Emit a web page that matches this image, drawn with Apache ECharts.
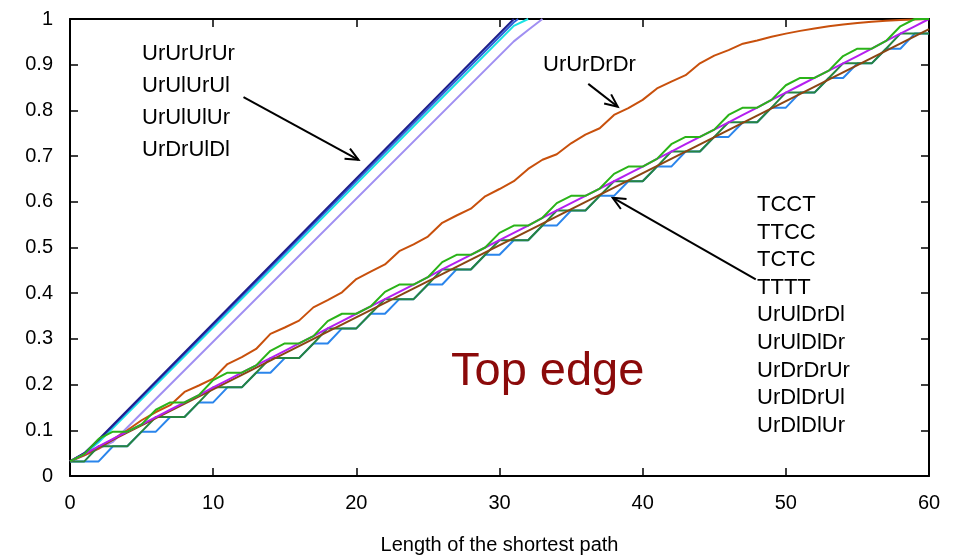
<!DOCTYPE html>
<html>
<head>
<meta charset="utf-8">
<script src="https://cdn.jsdelivr.net/npm/echarts@6/dist/echarts.min.js"></script>
<style>
html,body{margin:0;padding:0;background:#fff;}
#chart{width:953px;height:560px;}
</style>
</head>
<body>
<div id="chart"></div>
<script>
// x values: length of the shortest path
const pathLength = [0,1,2,3,4,5,6,7,8,9,10,11,12,13,14,15,16,17,18,19,20,21,22,23,24,25,26,27,28,29,30,31,32,33,34,35,36,37,38,39,40,41,42,43,44,45,46,47,48,49,50,51,52,53,54,55,56,57,58,59,60];

// Top group (steep lines): [x, y] pairs
const urUrUrUr = [[0,0.032],[1,0.05],[2,0.08],[31,1.0]];
const urUlUrUl = [[0,0.032],[1,0.05],[2,0.078],[31,0.993],[31.3,1.0]];
const urUlUlUr = [[0,0.032],[1,0.048],[2,0.074],[31,0.985],[32,1.0]];
const urDrUlDl = [[0,0.032],[1,0.045],[2,0.06],[3,0.075],[31,0.951],[32,0.976],[33,1.0]];

// UrUrDrDr curve
const urUrDrDr = [0.032,0.045,0.06,0.08,0.10,0.122,0.14,0.155,0.184,0.198,0.213,0.245,0.26,0.278,0.311,0.325,0.34,0.369,0.385,0.402,0.431,0.447,0.463,0.492,0.507,0.524,0.554,0.57,0.585,0.612,0.628,0.645,0.672,0.692,0.704,0.728,0.747,0.761,0.79,0.805,0.823,0.848,0.863,0.877,0.903,0.92,0.932,0.946,0.953,0.961,0.968,0.974,0.979,0.984,0.988,0.991,0.994,0.996,0.998,0.999,1.0];

// Lower bundle
const purpleLine = [0.032,0.048,0.065,0.081,0.097,0.113,0.129,0.145,0.161,0.177,0.194,0.210,0.226,0.242,0.258,0.274,0.290,0.306,0.323,0.339,0.355,0.371,0.387,0.403,0.419,0.435,0.452,0.468,0.484,0.500,0.516,0.532,0.548,0.565,0.581,0.597,0.613,0.629,0.645,0.661,0.677,0.694,0.710,0.726,0.742,0.758,0.774,0.790,0.806,0.823,0.839,0.855,0.871,0.887,0.903,0.919,0.935,0.952,0.968,0.984,1.000];
const brownLine = [[0,0.032],[60,0.978]];
const blueStairs = [0.032,0.032,0.032,0.065,0.065,0.097,0.097,0.129,0.129,0.161,0.161,0.194,0.194,0.226,0.226,0.258,0.258,0.290,0.290,0.323,0.323,0.355,0.355,0.387,0.387,0.419,0.419,0.452,0.452,0.484,0.484,0.516,0.516,0.548,0.548,0.581,0.581,0.613,0.613,0.645,0.645,0.677,0.677,0.710,0.710,0.742,0.742,0.774,0.774,0.806,0.806,0.839,0.839,0.871,0.871,0.903,0.903,0.935,0.935,0.968,0.968];
const darkGreenStairs = [0.032,0.032,0.065,0.065,0.065,0.097,0.129,0.129,0.129,0.161,0.194,0.194,0.194,0.226,0.258,0.258,0.258,0.290,0.323,0.323,0.323,0.355,0.387,0.387,0.387,0.419,0.452,0.452,0.452,0.484,0.516,0.516,0.516,0.548,0.581,0.581,0.581,0.613,0.645,0.645,0.645,0.677,0.710,0.710,0.710,0.742,0.774,0.774,0.774,0.806,0.839,0.839,0.839,0.871,0.903,0.903,0.903,0.935,0.968,0.968,0.968];
const greenStairs = [0.032,0.048,0.081,0.097,0.097,0.113,0.145,0.161,0.161,0.177,0.210,0.226,0.226,0.242,0.274,0.290,0.290,0.306,0.339,0.355,0.355,0.371,0.403,0.419,0.419,0.435,0.468,0.484,0.484,0.500,0.532,0.548,0.548,0.565,0.597,0.613,0.613,0.629,0.661,0.677,0.677,0.694,0.726,0.742,0.742,0.758,0.790,0.806,0.806,0.823,0.855,0.871,0.871,0.887,0.919,0.935,0.935,0.952,0.984,1.000,1.000];

// tick labels
const xTicks = [0,10,20,30,40,50,60];
const yTickLabels = ['0','0.1','0.2','0.3','0.4','0.5','0.6','0.7','0.8','0.9','1'];

const leftLabels = ['UrUrUrUr','UrUlUrUl','UrUlUlUr','UrDrUlDl'];
const rightLabels = ['TCCT','TTCC','TCTC','TTTT','UrUlDrDl','UrUlDlDr','UrDrDrUr','UrDlDrUl','UrDlDlUr'];

function pairs(ys){ return ys.map((y,i)=>[pathLength[i], y]); }

const FONT = '"Liberation Sans", Arial, Helvetica, sans-serif';
const chart = echarts.init(document.getElementById('chart'), null, {renderer:'canvas'});

function mk(name, data, color, z){
  return {name, type:'line', data, showSymbol:false, symbol:'none', animation:false, z: z||2,
    lineStyle:{color, width:2}, emphasis:{disabled:true}};
}

const axisCommon = {
  type:'value', axisLine:{show:true, onZero:false, lineStyle:{color:'#000', width:2}},
  axisTick:{show:true, inside:true, length:8, lineStyle:{color:'#000', width:1.5}},
  splitLine:{show:false}
};

chart.setOption({
  animation:false,
  backgroundColor:'#fff',
  grid:{left:70, right:24, top:19, bottom:82, containLabel:false},
  xAxis:[
    Object.assign({}, axisCommon, {min:0, max:60, interval:10, position:'bottom',
      axisLabel:{color:'#000', fontSize:20, fontFamily:FONT, margin:17},
      name:'Length of the shortest path', nameLocation:'middle', nameGap:59,
      nameTextStyle:{color:'#000', fontSize:20, fontFamily:FONT}}),
    Object.assign({}, axisCommon, {min:0, max:60, interval:10, position:'top', axisLabel:{show:false}})
  ],
  yAxis:[
    Object.assign({}, axisCommon, {min:0, max:1, interval:0.1, position:'left',
      axisLabel:{color:'#000', fontSize:20, fontFamily:FONT, margin:17,
        formatter:(v)=>yTickLabels[Math.round(v*10)]}}),
    Object.assign({}, axisCommon, {min:0, max:1, interval:0.1, position:'right', axisLabel:{show:false}})
  ],
  series:[
    mk('UrDrUlDl', urDrUlDl, '#a08ff2'),
    mk('UrUlUlUr', urUlUlUr, '#19e3e3'),
    mk('UrUlUrUl', urUlUrUl, '#2f5fd8'),
    mk('UrUrUrUr', urUrUrUr, '#1f1f8c'),
    mk('UrUrDrDr', pairs(urUrDrDr), '#c8500c'),
    mk('blue', pairs(blueStairs), '#2a85ec'),
    mk('darkgreen', pairs(darkGreenStairs), '#268440'),
    mk('brown', brownLine, '#8b4513'),
    mk('purple', pairs(purpleLine), '#b41ff0'),
    mk('green', pairs(greenStairs), '#2ab318')
  ]
});

// Annotations
const g = [];
leftLabels.forEach((t,i)=>{
  g.push({type:'text', left:142, top:43+i*32, style:{text:t, font:'22px '+FONT, fill:'#000'}});
});
g.push({type:'text', left:543, top:54, style:{text:'UrUrDrDr', font:'22px '+FONT, fill:'#000'}});
rightLabels.forEach((t,i)=>{
  g.push({type:'text', left:757, top:194+i*27.6, style:{text:t, font:'22px '+FONT, fill:'#000'}});
});
g.push({type:'text', left:451, top:349, style:{text:'Top edge', font:'47px '+FONT, fill:'#8b0a0a'}});

// arrows in data coordinates
const arrows = [
  [[12.12,0.829],[20.15,0.692]],
  [[36.2,0.858],[38.26,0.808]],
  [[47.9,0.430],[37.9,0.609]]
];
arrows.forEach(a=>{
  const p0 = chart.convertToPixel({gridIndex:0}, a[0]);
  const p1 = chart.convertToPixel({gridIndex:0}, a[1]);
  const ang = Math.atan2(p1[1]-p0[1], p1[0]-p0[0]);
  const L = 14, w = 0.42;
  const h1 = [p1[0]-L*Math.cos(ang-w), p1[1]-L*Math.sin(ang-w)];
  const h2 = [p1[0]-L*Math.cos(ang+w), p1[1]-L*Math.sin(ang+w)];
  g.push({type:'line', shape:{x1:p0[0],y1:p0[1],x2:p1[0],y2:p1[1]}, style:{stroke:'#000', lineWidth:2}});
  g.push({type:'polyline', shape:{points:[h1,p1,h2]}, style:{stroke:'#000', lineWidth:2, fill:null}});
});
chart.setOption({graphic:g});
</script>
</body>
</html>
